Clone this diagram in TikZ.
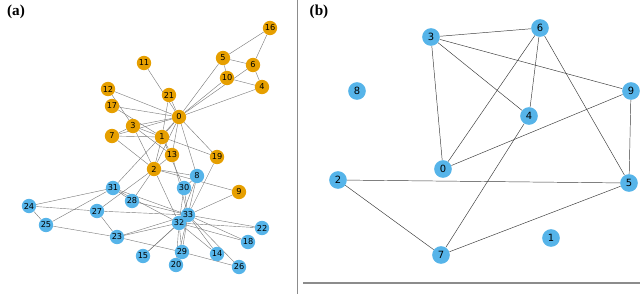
\documentclass[tikz,border=0pt]{standalone}
\usepackage{fontspec}
\usepackage{tikz}
\usetikzlibrary{backgrounds}
\newfontfamily\labfont{DejaVu Sans}
\newfontfamily\panfont{Liberation Serif}
\definecolor{KclubOrange}{HTML}{E69F00}
\definecolor{KclubBlue}{HTML}{56B4E9}
\definecolor{KclubEdge}{HTML}{7A7A7A}
\definecolor{KclubDark}{HTML}{3C3C3C}
\definecolor{KclubSpine}{HTML}{8C8C8C}

\begin{document}
\begin{tikzpicture}[x=0.03cm,y=-0.03cm]
    \tikzset{
      knode/.style={circle, minimum size=4.3mm, inner sep=0pt, fill=KclubOrange,
        text=black, font=\labfont\fontsize{7}{8}\selectfont},
      kblue/.style={knode,fill=KclubBlue},
      gnode/.style={circle, minimum size=5.3mm, inner sep=0pt, fill=KclubBlue,
        text=black, font=\labfont\fontsize{8.5}{9}\selectfont},
      kedge/.style={draw=KclubEdge,line width=.35pt},
      gedge/.style={draw=KclubDark,line width=.4pt},
      spine/.style={draw=KclubSpine,line width=1pt},
      panel/.style={font=\panfont\bfseries\fontsize{13}{15}\selectfont,inner sep=0pt}
    }
    \useasboundingbox (0,0) rectangle (640,294);
    % (a) karate club
    \foreach \n/\x/\y in {0/179/117,1/162/137,2/154/169,3/133/126,4/262/87,5/223/58,
      6/253/65,7/112/136,9/239/192,10/227/78,11/144/63,12/108/89,13/172/155,
      16/270/28,17/112/106,19/217/157,21/169/95}
      \node[knode] (k\n) at (\x,\y) {\n};
    \foreach \n/\x/\y in {8/197/176,14/217/254,15/143/256,18/248/242,20/176/265,
      22/262/228,23/117/237,24/29/206,25/46/225,26/239/267,27/97/211,28/132/201,
      29/182/252,30/184/188,31/113/188,32/179/223,33/188/215}
      \node[kblue] (k\n) at (\x,\y) {\n};
    \begin{scope}[on background layer]
      \foreach \a/\b in {0/1,0/2,0/3,0/4,0/5,0/6,0/7,0/8,0/10,0/11,0/12,0/13,0/17,
        0/19,0/21,0/31,1/2,1/3,1/7,1/13,1/17,1/19,1/21,1/30,2/3,2/7,2/8,2/9,2/13,
        2/27,2/28,2/32,3/7,3/12,3/13,4/6,4/10,5/6,5/10,5/16,6/16,8/30,8/32,8/33,
        9/33,13/33,14/32,14/33,15/32,15/33,18/32,18/33,19/33,20/32,20/33,22/32,
        22/33,23/25,23/27,23/29,23/32,23/33,24/25,24/27,24/31,25/31,26/29,26/33,
        27/33,28/31,28/33,29/32,29/33,30/32,30/33,31/32,31/33,32/33}
        \draw[kedge] (k\a) -- (k\b);
    \end{scope}
    % (b) small graph
    \node[gnode] (g0) at (443,169) {0};
    \node[gnode] (g1) at (551,238) {1};
    \node[gnode] (g2) at (338,180) {2};
    \node[gnode] (g3) at (431,37) {3};
    \node[gnode] (g4) at (529,116) {4};
    \node[gnode] (g5) at (629,183) {5};
    \node[gnode] (g6) at (540,28) {6};
    \node[gnode] (g7) at (441,255) {7};
    \node[gnode] (g8) at (357,91) {8};
    \node[gnode] (g9) at (631,91) {9};
    \begin{scope}[on background layer]
      \foreach \a/\b in {3/6,3/9,3/4,3/0,6/4,6/0,6/5,9/0,9/5,4/7,2/5,2/7,7/5}
        \draw[gedge] (g\a) -- (g\b);
    \end{scope}
    \node[panel] (lbla) at (16,12) {(a)};
    \node[panel] (lblb) at (319,12) {(b)};
    \draw[spine] (297.5,0) -- (297.5,294);
    \draw[spine] (303,283) -- (640,283);
  \end{tikzpicture}
\end{document}
